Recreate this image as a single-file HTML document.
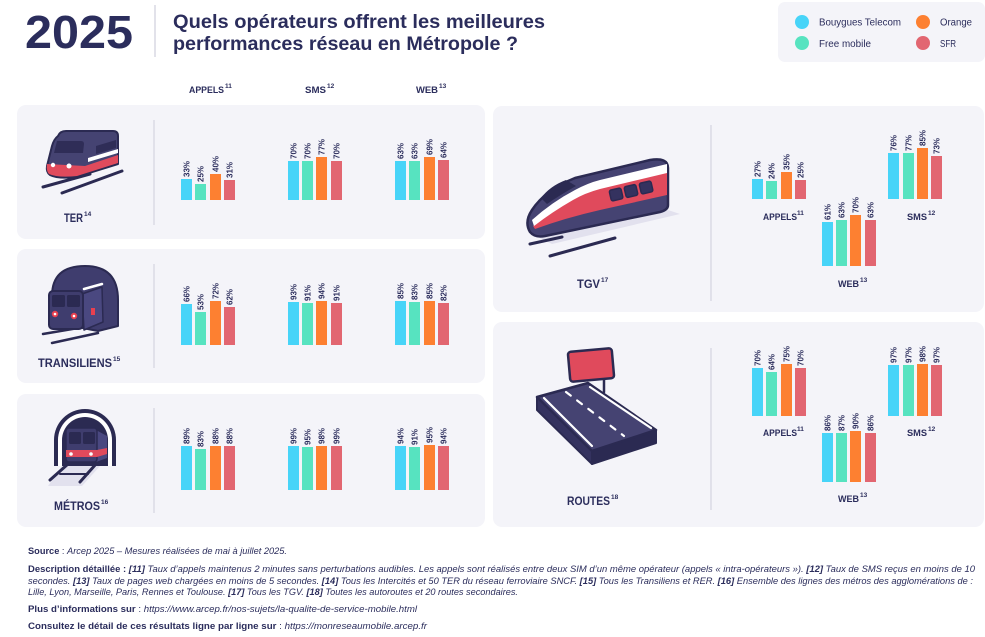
<!DOCTYPE html>
<html><head><meta charset="utf-8"><style>
html,body{margin:0;padding:0;background:#fff;}
svg{display:block;font-family:"Liberation Sans",sans-serif;}
.n{fill:#2b2d5c;}
.lb{font-size:8px;font-weight:bold;fill:#2b2d5c;}
.hd{font-size:9.5px;font-weight:bold;fill:#2b2d5c;}
.sp{font-size:6.5px;font-weight:bold;fill:#2b2d5c;}
.pn{font-size:11.5px;font-weight:bold;fill:#2b2d5c;}
.ft{font-size:9px;fill:#2b2d5c;}
.c1{fill:#47d4f8}.c2{fill:#57e3c0}.c3{fill:#fd8031}.c4{fill:#e26671}
</style></head><body>
<svg width="985" height="637" viewBox="0 0 985 637" xmlns="http://www.w3.org/2000/svg">
<rect width="985" height="637" fill="#fff"/>
<!-- Header -->
<text x="25" y="48" font-size="46" font-weight="bold" class="n" textLength="108" lengthAdjust="spacingAndGlyphs">2025</text>
<line x1="155" y1="5" x2="155" y2="57" stroke="#d9d9e3" stroke-width="1.5"/>
<text x="173" y="28" font-size="19.5" font-weight="bold" class="n" textLength="372" lengthAdjust="spacingAndGlyphs">Quels opérateurs offrent les meilleures</text>
<text x="173" y="50" font-size="19.5" font-weight="bold" class="n" textLength="345" lengthAdjust="spacingAndGlyphs">performances réseau en Métropole ?</text>
<!-- Legend -->
<rect x="778" y="2" width="207" height="60" rx="7" fill="#f4f4f9"/>
<circle cx="802" cy="22" r="7" class="c1"/>
<circle cx="802" cy="43" r="7" class="c2"/>
<circle cx="923" cy="22" r="7" class="c3"/>
<circle cx="923" cy="43" r="7" class="c4"/>
<text x="819" y="25.5" font-size="10" class="n" textLength="82" lengthAdjust="spacingAndGlyphs">Bouygues Telecom</text>
<text x="819" y="47" font-size="10" class="n" textLength="52" lengthAdjust="spacingAndGlyphs">Free mobile</text>
<text x="940" y="25.5" font-size="10" class="n" textLength="32" lengthAdjust="spacingAndGlyphs">Orange</text>
<text x="940" y="47" font-size="10" class="n" textLength="16" lengthAdjust="spacingAndGlyphs">SFR</text>
<!-- Column headers -->
<text x="189" y="93" class="hd" textLength="35" lengthAdjust="spacingAndGlyphs">APPELS</text><text x="225" y="88" class="sp">11</text>
<text x="305" y="93" class="hd" textLength="21" lengthAdjust="spacingAndGlyphs">SMS</text><text x="327" y="88" class="sp">12</text>
<text x="416" y="93" class="hd" textLength="22" lengthAdjust="spacingAndGlyphs">WEB</text><text x="439" y="88" class="sp">13</text>
<!-- Panels -->
<rect x="17" y="105" width="468" height="134" rx="9" fill="#f4f4f9"/>
<rect x="17" y="249" width="468" height="134" rx="9" fill="#f4f4f9"/>
<rect x="17" y="394" width="468" height="133" rx="9" fill="#f4f4f9"/>
<rect x="493" y="106" width="491" height="206" rx="9" fill="#f4f4f9"/>
<rect x="493" y="322" width="491" height="205" rx="9" fill="#f4f4f9"/>
<g stroke="#d4d4e0" stroke-width="1.2">
<line x1="154" y1="120" x2="154" y2="225"/>
<line x1="154" y1="264" x2="154" y2="368"/>
<line x1="154" y1="408" x2="154" y2="513"/>
<line x1="711" y1="125" x2="711" y2="301"/>
<line x1="711" y1="348" x2="711" y2="510"/>
</g>
<!-- Panel labels -->
<text x="64" y="222" class="pn" textLength="19" lengthAdjust="spacingAndGlyphs">TER</text><text x="84" y="216" class="sp">14</text>
<text x="38" y="367" class="pn" textLength="74" lengthAdjust="spacingAndGlyphs">TRANSILIENS</text><text x="113" y="361" class="sp">15</text>
<text x="54" y="510" class="pn" textLength="46" lengthAdjust="spacingAndGlyphs">MÉTROS</text><text x="101" y="504" class="sp">16</text>
<text x="577" y="288" class="pn" textLength="23" lengthAdjust="spacingAndGlyphs">TGV</text><text x="601" y="282" class="sp">17</text>
<text x="567" y="505" class="pn" textLength="43" lengthAdjust="spacingAndGlyphs">ROUTES</text><text x="611" y="499" class="sp">18</text>
<!-- Right panel sub labels -->
<text x="763" y="220" class="hd" textLength="34" lengthAdjust="spacingAndGlyphs">APPELS</text><text x="797" y="215" class="sp">11</text>
<text x="907" y="220" class="hd" textLength="20" lengthAdjust="spacingAndGlyphs">SMS</text><text x="928" y="215" class="sp">12</text>
<text x="838" y="287" class="hd" textLength="21" lengthAdjust="spacingAndGlyphs">WEB</text><text x="860" y="282" class="sp">13</text>
<text x="763" y="436" class="hd" textLength="34" lengthAdjust="spacingAndGlyphs">APPELS</text><text x="797" y="431" class="sp">11</text>
<text x="907" y="436" class="hd" textLength="20" lengthAdjust="spacingAndGlyphs">SMS</text><text x="928" y="431" class="sp">12</text>
<text x="838" y="502" class="hd" textLength="21" lengthAdjust="spacingAndGlyphs">WEB</text><text x="860" y="497" class="sp">13</text>

<!-- TER bars (bottom 200) -->
<rect x="181" y="179" width="11" height="21" class="c1"/><rect x="195" y="184" width="11" height="16" class="c2"/><rect x="210" y="174" width="11" height="26" class="c3"/><rect x="224" y="180" width="11" height="20" class="c4"/>
<text class="lb" transform="translate(189.5,177) rotate(-90)">33%</text><text class="lb" transform="translate(203.5,182) rotate(-90)">25%</text><text class="lb" transform="translate(218.5,172) rotate(-90)">40%</text><text class="lb" transform="translate(232.5,178) rotate(-90)">31%</text>
<rect x="288" y="161" width="11" height="39" class="c1"/><rect x="302" y="161" width="11" height="39" class="c2"/><rect x="316" y="157" width="11" height="43" class="c3"/><rect x="331" y="161" width="11" height="39" class="c4"/>
<text class="lb" transform="translate(296.5,159) rotate(-90)">70%</text><text class="lb" transform="translate(310.5,159) rotate(-90)">70%</text><text class="lb" transform="translate(324.5,155) rotate(-90)">77%</text><text class="lb" transform="translate(339.5,159) rotate(-90)">70%</text>
<rect x="395" y="161" width="11" height="39" class="c1"/><rect x="409" y="161" width="11" height="39" class="c2"/><rect x="424" y="157" width="11" height="43" class="c3"/><rect x="438" y="160" width="11" height="40" class="c4"/>
<text class="lb" transform="translate(403.5,159) rotate(-90)">63%</text><text class="lb" transform="translate(417.5,159) rotate(-90)">63%</text><text class="lb" transform="translate(432.5,155) rotate(-90)">69%</text><text class="lb" transform="translate(446.5,158) rotate(-90)">64%</text>

<!-- TRANSILIENS bars (bottom 345) -->
<rect x="181" y="304" width="11" height="41" class="c1"/><rect x="195" y="312" width="11" height="33" class="c2"/><rect x="210" y="301" width="11" height="44" class="c3"/><rect x="224" y="307" width="11" height="38" class="c4"/>
<text class="lb" transform="translate(189.5,302) rotate(-90)">66%</text><text class="lb" transform="translate(203.5,310) rotate(-90)">53%</text><text class="lb" transform="translate(218.5,299) rotate(-90)">72%</text><text class="lb" transform="translate(232.5,305) rotate(-90)">62%</text>
<rect x="288" y="302" width="11" height="43" class="c1"/><rect x="302" y="303" width="11" height="42" class="c2"/><rect x="316" y="301" width="11" height="44" class="c3"/><rect x="331" y="303" width="11" height="42" class="c4"/>
<text class="lb" transform="translate(296.5,300) rotate(-90)">93%</text><text class="lb" transform="translate(310.5,301) rotate(-90)">91%</text><text class="lb" transform="translate(324.5,299) rotate(-90)">94%</text><text class="lb" transform="translate(339.5,301) rotate(-90)">91%</text>
<rect x="395" y="301" width="11" height="44" class="c1"/><rect x="409" y="302" width="11" height="43" class="c2"/><rect x="424" y="301" width="11" height="44" class="c3"/><rect x="438" y="303" width="11" height="42" class="c4"/>
<text class="lb" transform="translate(403.5,299) rotate(-90)">85%</text><text class="lb" transform="translate(417.5,300) rotate(-90)">83%</text><text class="lb" transform="translate(432.5,299) rotate(-90)">85%</text><text class="lb" transform="translate(446.5,301) rotate(-90)">82%</text>

<!-- METROS bars (bottom 490) -->
<rect x="181" y="446" width="11" height="44" class="c1"/><rect x="195" y="449" width="11" height="41" class="c2"/><rect x="210" y="446" width="11" height="44" class="c3"/><rect x="224" y="446" width="11" height="44" class="c4"/>
<text class="lb" transform="translate(189.5,444) rotate(-90)">89%</text><text class="lb" transform="translate(203.5,447) rotate(-90)">83%</text><text class="lb" transform="translate(218.5,444) rotate(-90)">88%</text><text class="lb" transform="translate(232.5,444) rotate(-90)">88%</text>
<rect x="288" y="446" width="11" height="44" class="c1"/><rect x="302" y="447" width="11" height="43" class="c2"/><rect x="316" y="446" width="11" height="44" class="c3"/><rect x="331" y="446" width="11" height="44" class="c4"/>
<text class="lb" transform="translate(296.5,444) rotate(-90)">99%</text><text class="lb" transform="translate(310.5,445) rotate(-90)">95%</text><text class="lb" transform="translate(324.5,444) rotate(-90)">98%</text><text class="lb" transform="translate(339.5,444) rotate(-90)">99%</text>
<rect x="395" y="446" width="11" height="44" class="c1"/><rect x="409" y="447" width="11" height="43" class="c2"/><rect x="424" y="445" width="11" height="45" class="c3"/><rect x="438" y="446" width="11" height="44" class="c4"/>
<text class="lb" transform="translate(403.5,444) rotate(-90)">94%</text><text class="lb" transform="translate(417.5,445) rotate(-90)">91%</text><text class="lb" transform="translate(432.5,443) rotate(-90)">95%</text><text class="lb" transform="translate(446.5,444) rotate(-90)">94%</text>

<!-- TGV bars -->
<rect x="752" y="179" width="11" height="20" class="c1"/><rect x="766" y="181" width="11" height="18" class="c2"/><rect x="781" y="172" width="11" height="27" class="c3"/><rect x="795" y="180" width="11" height="19" class="c4"/>
<text class="lb" transform="translate(760.5,177) rotate(-90)">27%</text><text class="lb" transform="translate(774.5,179) rotate(-90)">24%</text><text class="lb" transform="translate(789.5,170) rotate(-90)">35%</text><text class="lb" transform="translate(803.5,178) rotate(-90)">25%</text>
<rect x="888" y="153" width="11" height="46" class="c1"/><rect x="903" y="153" width="11" height="46" class="c2"/><rect x="917" y="148" width="11" height="51" class="c3"/><rect x="931" y="156" width="11" height="43" class="c4"/>
<text class="lb" transform="translate(896.5,151) rotate(-90)">76%</text><text class="lb" transform="translate(911.5,151) rotate(-90)">77%</text><text class="lb" transform="translate(925.5,146) rotate(-90)">85%</text><text class="lb" transform="translate(939.5,154) rotate(-90)">73%</text>
<rect x="822" y="222" width="11" height="44" class="c1"/><rect x="836" y="220" width="11" height="46" class="c2"/><rect x="850" y="215" width="11" height="51" class="c3"/><rect x="865" y="220" width="11" height="46" class="c4"/>
<text class="lb" transform="translate(830.5,220) rotate(-90)">61%</text><text class="lb" transform="translate(844.5,218) rotate(-90)">63%</text><text class="lb" transform="translate(858.5,213) rotate(-90)">70%</text><text class="lb" transform="translate(873.5,218) rotate(-90)">63%</text>

<!-- ROUTES bars -->
<rect x="752" y="368" width="11" height="48" class="c1"/><rect x="766" y="372" width="11" height="44" class="c2"/><rect x="781" y="364" width="11" height="52" class="c3"/><rect x="795" y="368" width="11" height="48" class="c4"/>
<text class="lb" transform="translate(760.5,366) rotate(-90)">70%</text><text class="lb" transform="translate(774.5,370) rotate(-90)">64%</text><text class="lb" transform="translate(789.5,362) rotate(-90)">75%</text><text class="lb" transform="translate(803.5,366) rotate(-90)">70%</text>
<rect x="888" y="365" width="11" height="51" class="c1"/><rect x="903" y="365" width="11" height="51" class="c2"/><rect x="917" y="364" width="11" height="52" class="c3"/><rect x="931" y="365" width="11" height="51" class="c4"/>
<text class="lb" transform="translate(896.5,363) rotate(-90)">97%</text><text class="lb" transform="translate(911.5,363) rotate(-90)">97%</text><text class="lb" transform="translate(925.5,362) rotate(-90)">98%</text><text class="lb" transform="translate(939.5,363) rotate(-90)">97%</text>
<rect x="822" y="433" width="11" height="49" class="c1"/><rect x="836" y="433" width="11" height="49" class="c2"/><rect x="850" y="431" width="11" height="51" class="c3"/><rect x="865" y="433" width="11" height="49" class="c4"/>
<text class="lb" transform="translate(830.5,431) rotate(-90)">86%</text><text class="lb" transform="translate(844.5,431) rotate(-90)">87%</text><text class="lb" transform="translate(858.5,429) rotate(-90)">90%</text><text class="lb" transform="translate(873.5,431) rotate(-90)">86%</text>

<!-- TER icon -->
<g stroke-linecap="round" stroke-linejoin="round">
<line x1="43" y1="187" x2="90" y2="174" stroke="#2b2a52" stroke-width="3"/>
<line x1="62" y1="193" x2="122" y2="171" stroke="#2b2a52" stroke-width="3"/>
<path d="M58,136 Q60,131 66,131 L113,131 Q118,131 118,136 L118,164 L76,177 Q58,179 50,175 Q46,172 47,166 L52,146 Q54,139 58,136 Z" fill="#454372" stroke="#2b2a52" stroke-width="2"/>
<path d="M57,141 L81,141 Q84,141 84,144 L83,153 L54,153 Z" fill="#2f2d57"/>
<path d="M96,146 L116,140 L116,148 L96,154 Z" fill="#2f2d57"/>
<path d="M88,158 L118,149 L118,153 L88,162 Z" fill="#fff"/>
<path d="M47,164 L85,166 L118,155 L118,163 L77,176 Q58,178 49,174 Q46,171 47,164 Z" fill="#e04a5c"/>
<circle cx="53" cy="165" r="2.2" fill="#fff"/><circle cx="69" cy="166" r="2.5" fill="#fff"/>
</g>

<!-- TRANSILIENS icon -->
<g stroke-linecap="round" stroke-linejoin="round">
<path d="M52,322 L52,296 Q52,266 85,266 Q118,266 118,300 L118,326 L98,331 Z" fill="#3f3d6e" stroke="#2b2a52" stroke-width="2"/>
<line x1="43" y1="334" x2="84" y2="327" stroke="#2b2a52" stroke-width="2.5"/>
<line x1="52" y1="343" x2="98" y2="333" stroke="#2b2a52" stroke-width="2.5"/>
<path d="M82,294 L102,287 L103,322 L84,330 Z" fill="#4a4880" stroke="#2b2a52" stroke-width="1.5"/>
<line x1="84" y1="289" x2="102" y2="284" stroke="#fff" stroke-width="2.5"/>
<rect x="49" y="291" width="34" height="38" rx="4" fill="#3f3d6e" stroke="#2b2a52" stroke-width="2"/>
<rect x="52" y="295" width="13" height="12" rx="1.5" fill="#2b2a52"/><rect x="67" y="295" width="13" height="12" rx="1.5" fill="#2b2a52"/>
<circle cx="55" cy="314" r="3.2" fill="#e8404f"/><circle cx="55" cy="314" r="1.3" fill="#fff"/>
<circle cx="74" cy="316" r="3.2" fill="#e8404f"/><circle cx="74" cy="316" r="1.3" fill="#fff"/>
<rect x="91" y="308" width="4" height="7" fill="#e8404f"/>
</g>

<!-- METROS icon -->
<g stroke-linecap="round" stroke-linejoin="round">
<path d="M62,466 L100,466 L82,486 L48,486 Z" fill="#e2e1ee"/>
<line x1="68" y1="464" x2="50" y2="480" stroke="#2b2a52" stroke-width="3"/>
<line x1="96" y1="464" x2="80" y2="482" stroke="#2b2a52" stroke-width="3"/>
<line x1="60" y1="474" x2="88" y2="474" stroke="#2b2a52" stroke-width="2"/>
<path d="M54,466 L54,440 A31,31 0 0 1 116,440 L116,466 Z" fill="#2b2a52"/>
<path d="M58,466 L58,440 A27,27 0 0 1 112,440 L112,466 Z" fill="#fff"/>
<path d="M62,466 L62,440 A23,23 0 0 1 108,440 L108,466 Z" fill="#2b2a52"/>
<path d="M96,430 L107,436 L107,458 L96,462 Z" fill="#4a4880"/>
<rect x="66" y="428" width="31" height="34" rx="3" fill="#3f3d6e" stroke="#2b2a52" stroke-width="1.5"/>
<rect x="69" y="432" width="12" height="12" rx="1.5" fill="#2b2a52"/><rect x="83" y="432" width="12" height="12" rx="1.5" fill="#2b2a52"/>
<rect x="66" y="450" width="31" height="7" fill="#e04a5c"/>
<path d="M97,450 L107,448 L107,454 L97,457 Z" fill="#e04a5c"/>
<circle cx="71" cy="454" r="1.8" fill="#fff"/><circle cx="91" cy="454" r="1.8" fill="#fff"/>
</g>

<!-- TGV icon -->
<g stroke-linecap="round" stroke-linejoin="round">
<path d="M540,238 L668,210 L680,214 L552,244 Z" fill="#e2e1ee"/>
<line x1="530" y1="244" x2="562" y2="237" stroke="#2b2a52" stroke-width="3"/>
<line x1="550" y1="256" x2="615" y2="238" stroke="#2b2a52" stroke-width="3"/>
<path d="M530,232 Q524,222 532,210 Q545,190 575,178 L650,160 Q668,157 668,168 L668,205 Q668,210 660,212 L545,236 Q535,238 530,232 Z" fill="#454372" stroke="#2b2a52" stroke-width="2.5"/>
<path d="M533,226 Q550,212 572,199 Q585,191 600,187 L667,171 L667,195 L600,210 Q565,218 535,229 Z" fill="#e04a5c"/>
<path d="M532,220 Q552,202 575,190 Q588,183 600,180 L667,164 L667,173 L600,189 Q585,193 573,200 Q552,212 534,226 Z" fill="#fff"/>
<path d="M541,198 Q550,186 566,180 L576,186 Q560,195 547,204 Z" fill="#2b2a52"/>
<g fill="#34325f" stroke="#2b2a52" stroke-width="1.5">
<rect x="610" y="189" width="12" height="11" rx="2" transform="rotate(-13 616 194)"/>
<rect x="625" y="185.5" width="12" height="11" rx="2" transform="rotate(-13 631 191)"/>
<rect x="640" y="182" width="12" height="11" rx="2" transform="rotate(-13 646 187)"/>
</g>
</g>

<!-- ROUTES icon -->
<g stroke-linecap="round" stroke-linejoin="round">
<line x1="604" y1="378" x2="604" y2="392" stroke="#2b2a52" stroke-width="2.5"/>
<rect x="569" y="350" width="44" height="30" rx="3" fill="#e04a5c" stroke="#2b2a52" stroke-width="2.5" transform="rotate(-5 591 365)"/>
<path d="M537,397 L537,410 L592,464 L592,451 Z" fill="#34325f" stroke="#2b2a52" stroke-width="2"/>
<path d="M592,451 L592,464 L656,443 L656,430 Z" fill="#2b2a52" stroke="#2b2a52" stroke-width="2"/>
<path d="M537,397 L588,383 L656,430 L592,451 Z" fill="#454372" stroke="#2b2a52" stroke-width="2.5"/>
<line x1="544" y1="398" x2="592" y2="446" stroke="#fff" stroke-width="2.2"/>
<line x1="590" y1="387" x2="651" y2="428" stroke="#fff" stroke-width="2.2"/>
<line x1="566" y1="392" x2="624" y2="436" stroke="#fff" stroke-width="2.2" stroke-dasharray="6 8"/>
</g>

<!-- Footer -->
<text x="28" y="554" class="ft" textLength="259" lengthAdjust="spacingAndGlyphs"><tspan font-weight="bold">Source</tspan> : <tspan font-style="italic">Arcep 2025 – Mesures réalisées de mai à juillet 2025.</tspan></text>
<text x="28" y="572" class="ft" textLength="947" lengthAdjust="spacingAndGlyphs"><tspan font-weight="bold">Description détaillée :</tspan> <tspan font-style="italic"><tspan font-weight="bold">[11]</tspan> Taux d’appels maintenus 2 minutes sans perturbations audibles. Les appels sont réalisés entre deux SIM d’un même opérateur (appels « intra-opérateurs »). <tspan font-weight="bold">[12]</tspan> Taux de SMS reçus en moins de 10</tspan></text>
<text x="28" y="584" class="ft" font-style="italic" textLength="945" lengthAdjust="spacingAndGlyphs">secondes. <tspan font-weight="bold">[13]</tspan> Taux de pages web chargées en moins de 5 secondes. <tspan font-weight="bold">[14]</tspan> Tous les Intercités et 50 TER du réseau ferroviaire SNCF. <tspan font-weight="bold">[15]</tspan> Tous les Transiliens et RER. <tspan font-weight="bold">[16]</tspan> Ensemble des lignes des métros des agglomérations de :</text>
<text x="28" y="595" class="ft" font-style="italic" textLength="490" lengthAdjust="spacingAndGlyphs">Lille, Lyon, Marseille, Paris, Rennes et Toulouse. <tspan font-weight="bold">[17]</tspan> Tous les TGV. <tspan font-weight="bold">[18]</tspan> Toutes les autoroutes et 20 routes secondaires.</text>
<text x="28" y="612" class="ft" textLength="389" lengthAdjust="spacingAndGlyphs"><tspan font-weight="bold">Plus d’informations sur</tspan> : <tspan font-style="italic">https://www.arcep.fr/nos-sujets/la-qualite-de-service-mobile.html</tspan></text>
<text x="28" y="629" class="ft" textLength="399" lengthAdjust="spacingAndGlyphs"><tspan font-weight="bold">Consultez le détail de ces résultats ligne par ligne sur</tspan> : <tspan font-style="italic">https://monreseaumobile.arcep.fr</tspan></text>
</svg>
</body></html>
